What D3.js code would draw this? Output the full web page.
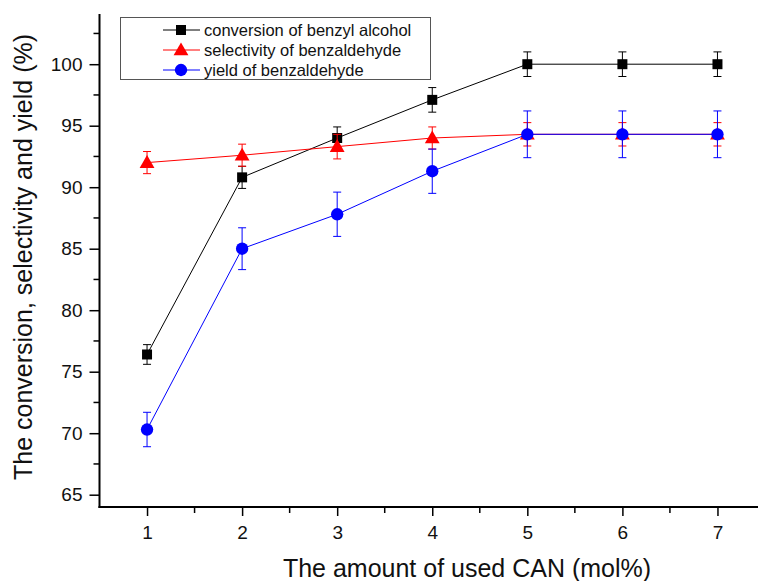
<!DOCTYPE html>
<html><head><meta charset="utf-8">
<script src="https://cdn.jsdelivr.net/npm/d3@7"></script>
<style>
html,body{margin:0;padding:0;background:#fff;}
svg{display:block;font-family:"Liberation Sans",Arial,sans-serif;}
</style></head>
<body><svg id="c" width="758" height="581"></svg>
<script>
const xValues = [1, 2, 3, 4, 5, 6, 7];
const conversion = [76.4, 90.8, 94.0, 97.1, 100, 100, 100];
const conversionErr = [0.8, 0.9, 0.9, 1.0, 1.0, 1.0, 1.0];
const selectivity = [92.0, 92.6, 93.3, 94.0, 94.3, 94.3, 94.3];
const selectivityErr = [0.9, 0.9, 1.0, 0.9, 0.95, 0.95, 0.95];
const yieldVals = [70.3, 85.0, 87.8, 91.3, 94.3, 94.3, 94.3];
const yieldErr = [1.4, 1.7, 1.8, 1.8, 1.9, 1.9, 1.9];
const yTicks = [65, 70, 75, 80, 85, 90, 95, 100];
const xTicks = [1, 2, 3, 4, 5, 6, 7];
const seriesNames = ["conversion of benzyl alcohol", "selectivity of benzaldehyde", "yield of benzaldehyde"];
const seriesColors = ["#000000", "#ff0000", "#0000ff"];
const seriesShapes = ["square", "triangle", "circle"];
const xTitle = "The amount of used CAN (mol%)";
const yTitle = "The conversion, selectivity and yield (%)";

const svg = d3.select("#c");
const x = d3.scaleLinear().domain([0.5, 7.5]).range([99.5, 765]);
const y = d3.scaleLinear().domain([64, 104]).range([507, 15]);

const series = [
  {vals: conversion, err: conversionErr},
  {vals: selectivity, err: selectivityErr},
  {vals: yieldVals, err: yieldErr}
].map((s, i) => ({...s, name: seriesNames[i], color: seriesColors[i], shape: seriesShapes[i]}));

function symbolFor(shape) {
  if (shape === "square") return d3.symbol().type(d3.symbolSquare).size(100);
  if (shape === "triangle") return d3.symbol().type(d3.symbolTriangle).size(95);
  return d3.symbol().type(d3.symbolCircle).size(120);
}

const plot = svg.append("g");
series.forEach(s => {
  const g = plot.append("g");
  const pts = xValues.map((xv, i) => ({x: xv, y: s.vals[i], e: s.err[i]}));
  g.append("path").datum(pts)
    .attr("d", d3.line().x(d => x(d.x)).y(d => y(d.y)))
    .attr("fill", "none").attr("stroke", s.color).attr("stroke-width", 1);
  const eb = g.selectAll(".eb").data(pts).enter().append("g");
  eb.append("line").attr("x1", d => x(d.x)).attr("x2", d => x(d.x))
    .attr("y1", d => y(d.y - d.e)).attr("y2", d => y(d.y + d.e))
    .attr("stroke", s.color).attr("stroke-width", 1);
  [-1, 1].forEach(sg => {
    eb.append("line").attr("x1", d => x(d.x) - 4).attr("x2", d => x(d.x) + 4)
      .attr("y1", d => y(d.y + sg * d.e)).attr("y2", d => y(d.y + sg * d.e))
      .attr("stroke", s.color).attr("stroke-width", 1);
  });
  g.selectAll(".m").data(pts).enter().append("path")
    .attr("d", symbolFor(s.shape))
    .attr("transform", d => `translate(${x(d.x)},${y(d.y) + (s.shape === "triangle" ? 1 : 0)})`)
    .attr("fill", s.color);
});

// axes
const yAxis = svg.append("g").attr("transform", "translate(99.5,0)");
yAxis.call(d3.axisLeft(y).tickValues(yTicks).tickSize(10).tickPadding(7).tickFormat(d3.format("d")));
yAxis.append("g").selectAll("line").data(d3.range(65, 104, 2.5).filter(v => v % 5 !== 0))
  .enter().append("line").attr("x1", 0).attr("x2", -6).attr("y1", d => y(d)).attr("y2", d => y(d))
  .attr("stroke", "#000").attr("stroke-width", 1.5);
const xAxis = svg.append("g").attr("transform", "translate(0,507)");
xAxis.call(d3.axisBottom(x).tickValues(xTicks).tickSize(9).tickPadding(10).tickFormat(d3.format("d")));
xAxis.append("g").selectAll("line").data(d3.range(1.5, 7.5, 1))
  .enter().append("line").attr("x1", d => x(d)).attr("x2", d => x(d)).attr("y1", 0).attr("y2", 6)
  .attr("stroke", "#000").attr("stroke-width", 1.5);
[yAxis, xAxis].forEach(a => {
  a.selectAll(".tick line").attr("stroke-width", 1.5);
  a.selectAll("text").attr("font-size", 19).attr("fill", "#111").attr("font-family", "Liberation Sans, Arial, sans-serif");
});
yAxis.select(".domain").remove();
xAxis.select(".domain").remove();
svg.append("line").attr("x1", 99.5).attr("x2", 99.5).attr("y1", 14).attr("y2", 508).attr("stroke", "#000").attr("stroke-width", 2);
svg.append("line").attr("x1", 98.5).attr("x2", 758).attr("y1", 507).attr("y2", 507).attr("stroke", "#000").attr("stroke-width", 2);

// titles
svg.append("text").attr("x", 467).attr("y", 577).attr("text-anchor", "middle")
  .attr("font-size", 25).attr("fill", "#111").text(xTitle);
svg.append("text").attr("transform", "translate(32,257) rotate(-90)").attr("text-anchor", "middle")
  .attr("font-size", 25).attr("fill", "#111").text(yTitle);

// legend
const lg = svg.append("g");
lg.append("rect").attr("x", 120.5).attr("y", 17.5).attr("width", 310).attr("height", 62)
  .attr("fill", "#fff").attr("stroke", "#555").attr("stroke-width", 1);
series.forEach((s, i) => {
  const ly = 30 + i * 20;
  lg.append("line").attr("x1", 163).attr("x2", 200).attr("y1", ly).attr("y2", ly)
    .attr("stroke", s.color).attr("stroke-width", 1);
  lg.append("path").attr("d", symbolFor(s.shape)).attr("transform", `translate(181,${ly + (s.shape === "triangle" ? 1 : 0)})`).attr("fill", s.color);
  lg.append("text").attr("x", 204).attr("y", ly + 6).attr("font-size", 16.5).attr("fill", "#111").text(s.name);
});
</script></body></html>
